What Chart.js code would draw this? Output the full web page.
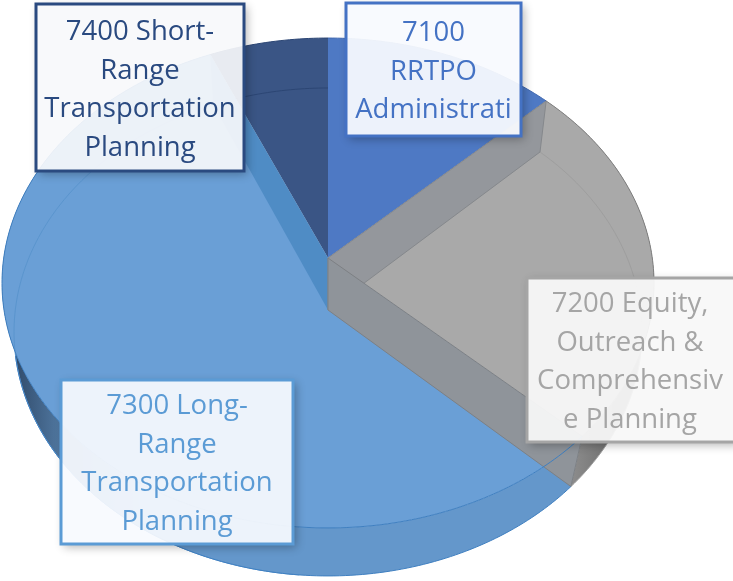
<!DOCTYPE html>
<html>
<head>
<meta charset="utf-8">
<title>Budget by task</title>
<script src="https://cdn.jsdelivr.net/npm/chart.js@4"></script>
<style>
  body { margin: 0; background: #fff; }
  #pie { display: block; }
</style>
</head>
<body>
<canvas id="pie" width="733" height="581"></canvas>
<script>
const categories = ['7100 RRTPO Administration', '7200 Equity, Outreach & Comprehensive Planning', '7300 Long-Range Transportation Planning', '7400 Short-Range Transportation Planning'];
const shares = [12.8, 24.2, 56.5, 6.5];
const sliceColors = ['#4e79c4', '#a9a9a9', '#6a9fd6', '#3a5585'];

// wrapped the way the original callouts wrap (7100 really is cut off)
const labelLines = [
    ['7100', 'RRTPO', 'Administrati'],
    ['7200 Equity,', 'Outreach &', 'Comprehensiv', 'e Planning'],
    ['7300 Long-', 'Range', 'Transportation', 'Planning'],
    ['7400 Short-', 'Range', 'Transportation', 'Planning']
];
const labelInk = ['#4472c4', '#a5a5a5', '#5b9bd5', '#2a4a80'];
const labelFill = ['rgba(248,250,254,0.94)', 'rgba(248,248,248,0.94)', 'rgba(247,250,254,0.93)', 'rgba(247,248,251,0.92)'];
const labelBoxes = [
    {x: 346, y: 3, w: 175, h: 133, firstLine: 33},
    {x: 527, y: 278, w: 210, h: 164, firstLine: 304},
    {x: 61, y: 380, w: 232, h: 164, firstLine: 406},
    {x: 36, y: 4, w: 208, h: 167, firstLine: 32}
];

// perspective of the two disc faces, px
const topFace = {cx: 328, cy: 258, a: 324.3, b: 242.4, k: 0.102};
const baseFace = {cx: 328, cy: 310, a: 312.7, b: 242, k: 0.09};

function project(face, angle) {
    const u = Math.cos(angle), v = Math.sin(angle);
    const w = 1 - face.k * v;
    return [face.cx + face.a * u / w, face.cy + face.b * v / w];
}

function rimPoints(face, from, to) {
    const pts = [];
    const steps = Math.max(2, Math.ceil(Math.abs(to - from) * 60));
    for (let i = 0; i <= steps; i++) pts.push(project(face, from + (to - from) * i / steps));
    return pts;
}

function fillPoly(ctx, pts, fill, line) {
    ctx.beginPath();
    pts.forEach((p, i) => i ? ctx.lineTo(p[0], p[1]) : ctx.moveTo(p[0], p[1]));
    ctx.closePath();
    ctx.fillStyle = fill;
    ctx.fill();
    if (line) {ctx.strokeStyle = line; ctx.lineWidth = 1; ctx.stroke();}
}

function strokeRim(ctx, face, from, to, color, width) {
    ctx.beginPath();
    rimPoints(face, from, to).forEach((p, i) => i ? ctx.lineTo(p[0], p[1]) : ctx.moveTo(p[0], p[1]));
    ctx.strokeStyle = color;
    ctx.lineWidth = width;
    ctx.stroke();
}

// wall standing on a slice edge, between the two apexes
function cutWall(angle) {
    return [[topFace.cx, topFace.cy], project(topFace, angle), project(baseFace, angle), [baseFace.cx, baseFace.cy]];
}

const pie3d = {
    id: 'pie3d',
    beforeDatasetsDraw(chart) {
        const ctx = chart.ctx;
        const arcs = chart.getDatasetMeta(0).data;
        const [admin, equity, longRange, shortRange] = arcs;
        ctx.save();

        // outer side of the disc
        const blueSide = ctx.createLinearGradient(8, 0, 140, 0);
        blueSide.addColorStop(0, '#2c4564');
        blueSide.addColorStop(0.45, '#557ea8');
        blueSide.addColorStop(1, '#6497cb');
        fillPoly(ctx, rimPoints(topFace, longRange.startAngle, longRange.endAngle).concat(rimPoints(baseFace, longRange.endAngle, longRange.startAngle)), blueSide);
        const graySide = ctx.createLinearGradient(572, 0, 625, 0);
        graySide.addColorStop(0, '#8c8c8c');
        graySide.addColorStop(1, '#666666');
        fillPoly(ctx, rimPoints(topFace, equity.startAngle, equity.endAngle).concat(rimPoints(baseFace, equity.endAngle, equity.startAngle)), graySide);

        // top of each slice, angles come from the pie controller
        [longRange, shortRange, admin, equity].forEach(arc => {
            const pts = [[topFace.cx, topFace.cy]].concat(rimPoints(topFace, arc.startAngle, arc.endAngle));
            fillPoly(ctx, pts, arc.options.backgroundColor);
        });

        // far edge of the base showing through the slices
        strokeRim(ctx, baseFace, longRange.startAngle + 0.9, longRange.endAngle, '#5a95ce', 1);
        strokeRim(ctx, baseFace, shortRange.startAngle, shortRange.endAngle, '#2c4674', 1);
        strokeRim(ctx, baseFace, equity.startAngle, equity.endAngle, '#9e9e9e', 1);

        // cut faces
        fillPoly(ctx, cutWall(shortRange.startAngle), '#4f8cc5');
        fillPoly(ctx, cutWall(equity.startAngle), '#94979c', '#85888c');
        fillPoly(ctx, cutWall(equity.endAngle), '#8f949a', '#7d8084');

        // rims
        strokeRim(ctx, topFace, longRange.startAngle, longRange.endAngle, '#3f7fc0', 1);
        strokeRim(ctx, baseFace, longRange.startAngle, longRange.startAngle + 2.2, '#3f7fc0', 1);
        strokeRim(ctx, topFace, equity.startAngle, equity.endAngle, '#7f7f7f', 1);
        strokeRim(ctx, topFace, admin.startAngle, admin.endAngle, '#4068b0', 1);
        strokeRim(ctx, topFace, shortRange.startAngle, shortRange.endAngle, '#2c4674', 1);

        ctx.restore();
        return false;
    },
    afterDraw(chart) {
        const ctx = chart.ctx;
        const W = chart.width, H = chart.height;
        labelBoxes.forEach((box, i) => {
            ctx.save();
            // shadow only outside the box, the fill is see-through
            ctx.beginPath();
            ctx.rect(0, 0, W, H);
            ctx.rect(box.x, box.y, box.w, box.h);
            ctx.clip('evenodd');
            ctx.shadowColor = 'rgba(0,0,0,0.3)';
            ctx.shadowBlur = 9;
            ctx.shadowOffsetX = 3;
            ctx.shadowOffsetY = 3;
            ctx.fillStyle = '#fff';
            ctx.fillRect(box.x, box.y, box.w, box.h);
            ctx.restore();

            ctx.fillStyle = labelFill[i];
            ctx.fillRect(box.x, box.y, box.w, box.h);
            ctx.strokeStyle = labelInk[i];
            ctx.lineWidth = 3;
            ctx.strokeRect(box.x, box.y, box.w, box.h);

            ctx.fillStyle = labelInk[i];
            ctx.font = '27.5px "Open Sans"';
            ctx.textAlign = 'center';
            ctx.textBaseline = 'middle';
            labelLines[i].forEach((line, n) => {
                ctx.fillText(line, box.x + box.w / 2 - (i === 1 ? 2 : 0), box.firstLine + n * 38.8);
            });
        });
    }
};

new Chart(document.getElementById('pie'), {
    type: 'pie',
    data: {
        labels: categories,
        datasets: [{data: shares, backgroundColor: sliceColors, borderWidth: 0}]
    },
    options: {
        responsive: false,
        animation: false,
        plugins: {
            legend: {display: false},
            tooltip: {enabled: false}
        }
    },
    plugins: [pie3d]
});
</script>
</body>
</html>
